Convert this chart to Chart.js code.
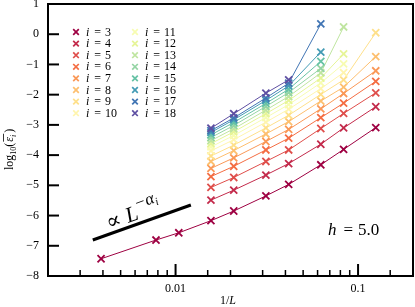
<!DOCTYPE html>
<html>
<head>
<meta charset="utf-8">
<script src="https://cdn.jsdelivr.net/npm/chart.js@4.4.1/dist/chart.umd.min.js"></script>
<style>
  html, body { margin: 0; padding: 0; background: #fff; }
  #wrap { width: 415px; height: 307px; }
</style>
</head>
<body>
<div id="wrap"><canvas id="chart" width="415" height="307"></canvas></div>
<script>
// system sizes L (x axis shows 1/L)
const sizes = [256, 128, 96, 64, 48, 32, 24, 16, 12, 8];

// log10 of mean error for each i, aligned with sizes (null = not computed)
const e3  = [-7.43, -6.81, -6.57, -6.17, -5.85, -5.35, -4.97, -4.32, -3.81, -3.09];
const e4  = [null, null, null, -5.49, -5.16, -4.66, -4.28, -3.64, -3.10, -2.40];
const e5  = [null, null, null, -5.07, -4.74, -4.21, -3.83, -3.12, -2.62, -1.94];
const e6  = [null, null, null, -4.71, -4.37, -3.83, -3.44, -2.76, -2.28, -1.56];
const e7  = [null, null, null, -4.44, -4.09, -3.55, -3.15, -2.47, -1.96, -1.21];
const e8  = [null, null, null, -4.21, -3.85, -3.30, -2.89, -2.21, -1.75, -0.74];
const e9  = [null, null, null, -4.03, -3.67, -3.10, -2.68, -1.99, -1.51, 0.05];
const e10 = [null, null, null, -3.86, -3.49, -2.91, -2.48, -1.80, -1.27];
const e11 = [null, null, null, -3.73, -3.35, -2.76, -2.33, -1.61, -0.98];
const e12 = [null, null, null, -3.62, -3.23, -2.63, -2.19, -1.45, -0.65];
const e13 = [null, null, null, -3.52, -3.13, -2.51, -2.06, -1.28, 0.24];
const e14 = [null, null, null, -3.42, -3.02, -2.39, -1.93, -1.13];
const e15 = [null, null, null, -3.33, -2.92, -2.29, -1.82, -0.90];
const e16 = [null, null, null, -3.25, -2.83, -2.19, -1.71, -0.59];
const e17 = [null, null, null, -3.19, -2.77, -2.11, -1.62, 0.34];
const e18 = [null, null, null, -3.11, -2.63, -1.95, -1.51];

const seriesIdx = [3, 4, 5, 6, 7, 8, 9, 10, 11, 12, 13, 14, 15, 16, 17, 18];
const series = [e3, e4, e5, e6, e7, e8, e9, e10, e11, e12, e13, e14, e15, e16, e17, e18];

// guide line for the power law
const guideX = [0.00352, 0.01213];
const guideY = [-6.81, -5.65];

const yTicks = [-8, -7, -6, -5, -4, -3, -2, -1, 0, 1];

// Spectral colormap, one colour per i
const colors = [
    '#9e0142', '#c32a4b', '#df4e4b', '#f46d43', '#fa9857', '#fdbf6f', '#fee08b', '#fff5ae',
    '#f7fcb2', '#e6f598', '#bfe5a0', '#94d4a4', '#66c2a5', '#439bb5', '#4175b4', '#5e4fa2',
];

const SERIF = '"Liberation Serif", "DejaVu Serif", serif';

function drawRuns(ctx, x, y, runs) {
    let cx = x;
    runs.forEach(r => {
        ctx.font = r.font;
        ctx.fillText(r.t, cx, y + (r.dy || 0));
        cx += ctx.measureText(r.t).width + (r.gap || 0);
    });
    return cx;
}

function drawCross(ctx, x, y, h, color, lw) {
    ctx.save();
    ctx.strokeStyle = color;
    ctx.lineWidth = lw;
    ctx.beginPath();
    ctx.moveTo(x - h, y - h); ctx.lineTo(x + h, y + h);
    ctx.moveTo(x - h, y + h); ctx.lineTo(x + h, y - h);
    ctx.stroke();
    ctx.restore();
}

const decorPlugin = {
    id: 'decor',
    afterDraw(chart) {
        const ctx = chart.ctx;
        const a = chart.chartArea;
        const xs = chart.scales.x;
        const ys = chart.scales.y;
        ctx.save();
        ctx.fillStyle = '#000';
        ctx.strokeStyle = '#000';

        // frame
        ctx.lineWidth = 2;
        ctx.strokeRect(a.left, a.top, a.right - a.left, a.bottom - a.top);

        // inward ticks
        ys.ticks.forEach(t => {
            const py = ys.getPixelForValue(t.value);
            ctx.lineWidth = 2;
            ctx.beginPath();
            ctx.moveTo(a.left, py); ctx.lineTo(a.left + 11, py);
            ctx.stroke();
        });
        xs.ticks.forEach(t => {
            const px = xs.getPixelForValue(t.value);
            if (px < a.left + 1 || px > a.right - 1) return;
            const lg = Math.log10(t.value);
            const major = Math.abs(lg - Math.round(lg)) < 1e-6;
            ctx.lineWidth = major ? 2 : 1.5;
            ctx.beginPath();
            ctx.moveTo(px, a.bottom); ctx.lineTo(px, a.bottom - (major ? 12 : 6));
            ctx.stroke();
        });

        // x axis label
        ctx.textBaseline = 'alphabetic';
        drawRuns(ctx, 220, 304, [
            { t: '1/', font: '12px ' + SERIF },
            { t: 'L', font: 'italic 12px ' + SERIF },
        ]);

        // y axis label
        ctx.save();
        ctx.translate(13, 170);
        ctx.rotate(-Math.PI / 2);
        const endX = drawRuns(ctx, 0, 0, [
            { t: 'log', font: '12px ' + SERIF },
            { t: '10', font: '8px ' + SERIF, dy: 3 },
            { t: '(', font: '12px ' + SERIF, gap: 1 },
        ]);
        ctx.font = 'italic 12px ' + SERIF;
        const ew = ctx.measureText('ε').width;
        ctx.fillText('ε', endX, 0);
        ctx.font = 'italic 8px ' + SERIF;
        ctx.fillText('i', endX + ew, 3);
        const iw = ctx.measureText('i').width;
        ctx.lineWidth = 0.8;
        ctx.beginPath();
        ctx.moveTo(endX, -9.5); ctx.lineTo(endX + ew + iw + 1, -9.5);
        ctx.stroke();
        ctx.font = '12px ' + SERIF;
        ctx.fillText(')', endX + ew + iw + 2, 0);
        ctx.restore();

        // power-law annotation
        ctx.save();
        ctx.translate(109, 230);
        ctx.rotate(-20 * Math.PI / 180);
        const cx = drawRuns(ctx, 0, 0, [
            { t: '∝ ', font: '22px ' + SERIF },
            { t: 'L', font: 'italic 22px ' + SERIF, gap: 1 },
            { t: '−', font: '17px ' + SERIF, dy: -10, gap: 1 },
            { t: 'α', font: 'italic 17px ' + SERIF, dy: -10 },
        ]);
        ctx.font = 'italic 11px ' + SERIF;
        ctx.fillText('i', cx, -7);
        ctx.restore();

        // field label
        drawRuns(ctx, 328, 235, [
            { t: 'h', font: 'italic 17px ' + SERIF, gap: 7 },
            { t: '=', font: '17px ' + SERIF, gap: 5 },
            { t: '5.0', font: '17px ' + SERIF },
        ]);

        // legend in two columns
        ctx.textBaseline = 'middle';
        seriesIdx.forEach((i, k) => {
            const col = Math.floor(k / 8);
            const row = k % 8;
            const mx = col === 0 ? 76 : 135;
            const my = 32 + row * 11.6;
            drawCross(ctx, mx, my, 2.8, colors[k], 1.7);
            drawRuns(ctx, mx + 10, my + 0.5, [
                { t: 'i', font: 'italic 12px ' + SERIF, gap: 5 },
                { t: '=', font: '12px ' + SERIF, gap: 4 },
                { t: String(i), font: '12px ' + SERIF },
            ]);
        });
        ctx.restore();
    },
};

const datasets = series.map((vals, k) => ({
    label: 'i = ' + seriesIdx[k],
    data: vals.map((v, j) => ({ x: 1 / sizes[j], y: v })),
    borderColor: colors[k],
    backgroundColor: colors[k],
    borderWidth: 1,
    pointStyle: 'crossRot',
    pointRadius: 5,
    pointBorderWidth: 1.8,
    pointHoverRadius: 5,
    spanGaps: false,
    order: -seriesIdx[k],
}));

datasets.push({
    label: 'guide',
    data: guideX.map((x, j) => ({ x, y: guideY[j] })),
    borderColor: '#000',
    borderWidth: 3,
    pointRadius: 0,
    order: -100,
});

new Chart(document.getElementById('chart').getContext('2d'), {
    type: 'line',
    data: { datasets },
    options: {
        responsive: false,
        animation: false,
        devicePixelRatio: 1,
        layout: { autoPadding: false, padding: { top: 4, right: 2, left: 0, bottom: 0 } },
        plugins: { legend: { display: false }, tooltip: { enabled: false } },
        scales: {
            x: {
                type: 'logarithmic',
                min: 0.002,
                max: 0.2,
                grid: { display: false, drawTicks: false },
                border: { display: false },
                ticks: {
                    autoSkip: false,
                    maxRotation: 0,
                    padding: 6,
                    color: '#000',
                    font: { family: SERIF, size: 12 },
                    callback: v => {
                        const lg = Math.log10(v);
                        if (Math.abs(lg - Math.round(lg)) > 1e-6) return '';
                        return Math.round(lg) === -2 ? '0.01' : Math.round(lg) === -1 ? '0.1' : '';
                    },
                },
                afterFit: s => {
                    s.height = 31;
                    s.paddingLeft = 0; s.paddingRight = 0;
                },
            },
            y: {
                type: 'linear',
                min: -8,
                max: 1,
                grid: { display: false, drawTicks: false },
                border: { display: false },
                afterBuildTicks: s => { s.ticks = yTicks.map(value => ({ value })); },
                ticks: {
                    padding: 9,
                    color: '#000',
                    font: { family: SERIF, size: 12 },
                    callback: v => (v < 0 ? '−' + Math.abs(v) : String(v)),
                },
                afterFit: s => {
                    s.width = 48;
                    s.paddingTop = 0; s.paddingBottom = 0;
                },
            },
        },
    },
    plugins: [decorPlugin],
});
</script>
</body>
</html>
